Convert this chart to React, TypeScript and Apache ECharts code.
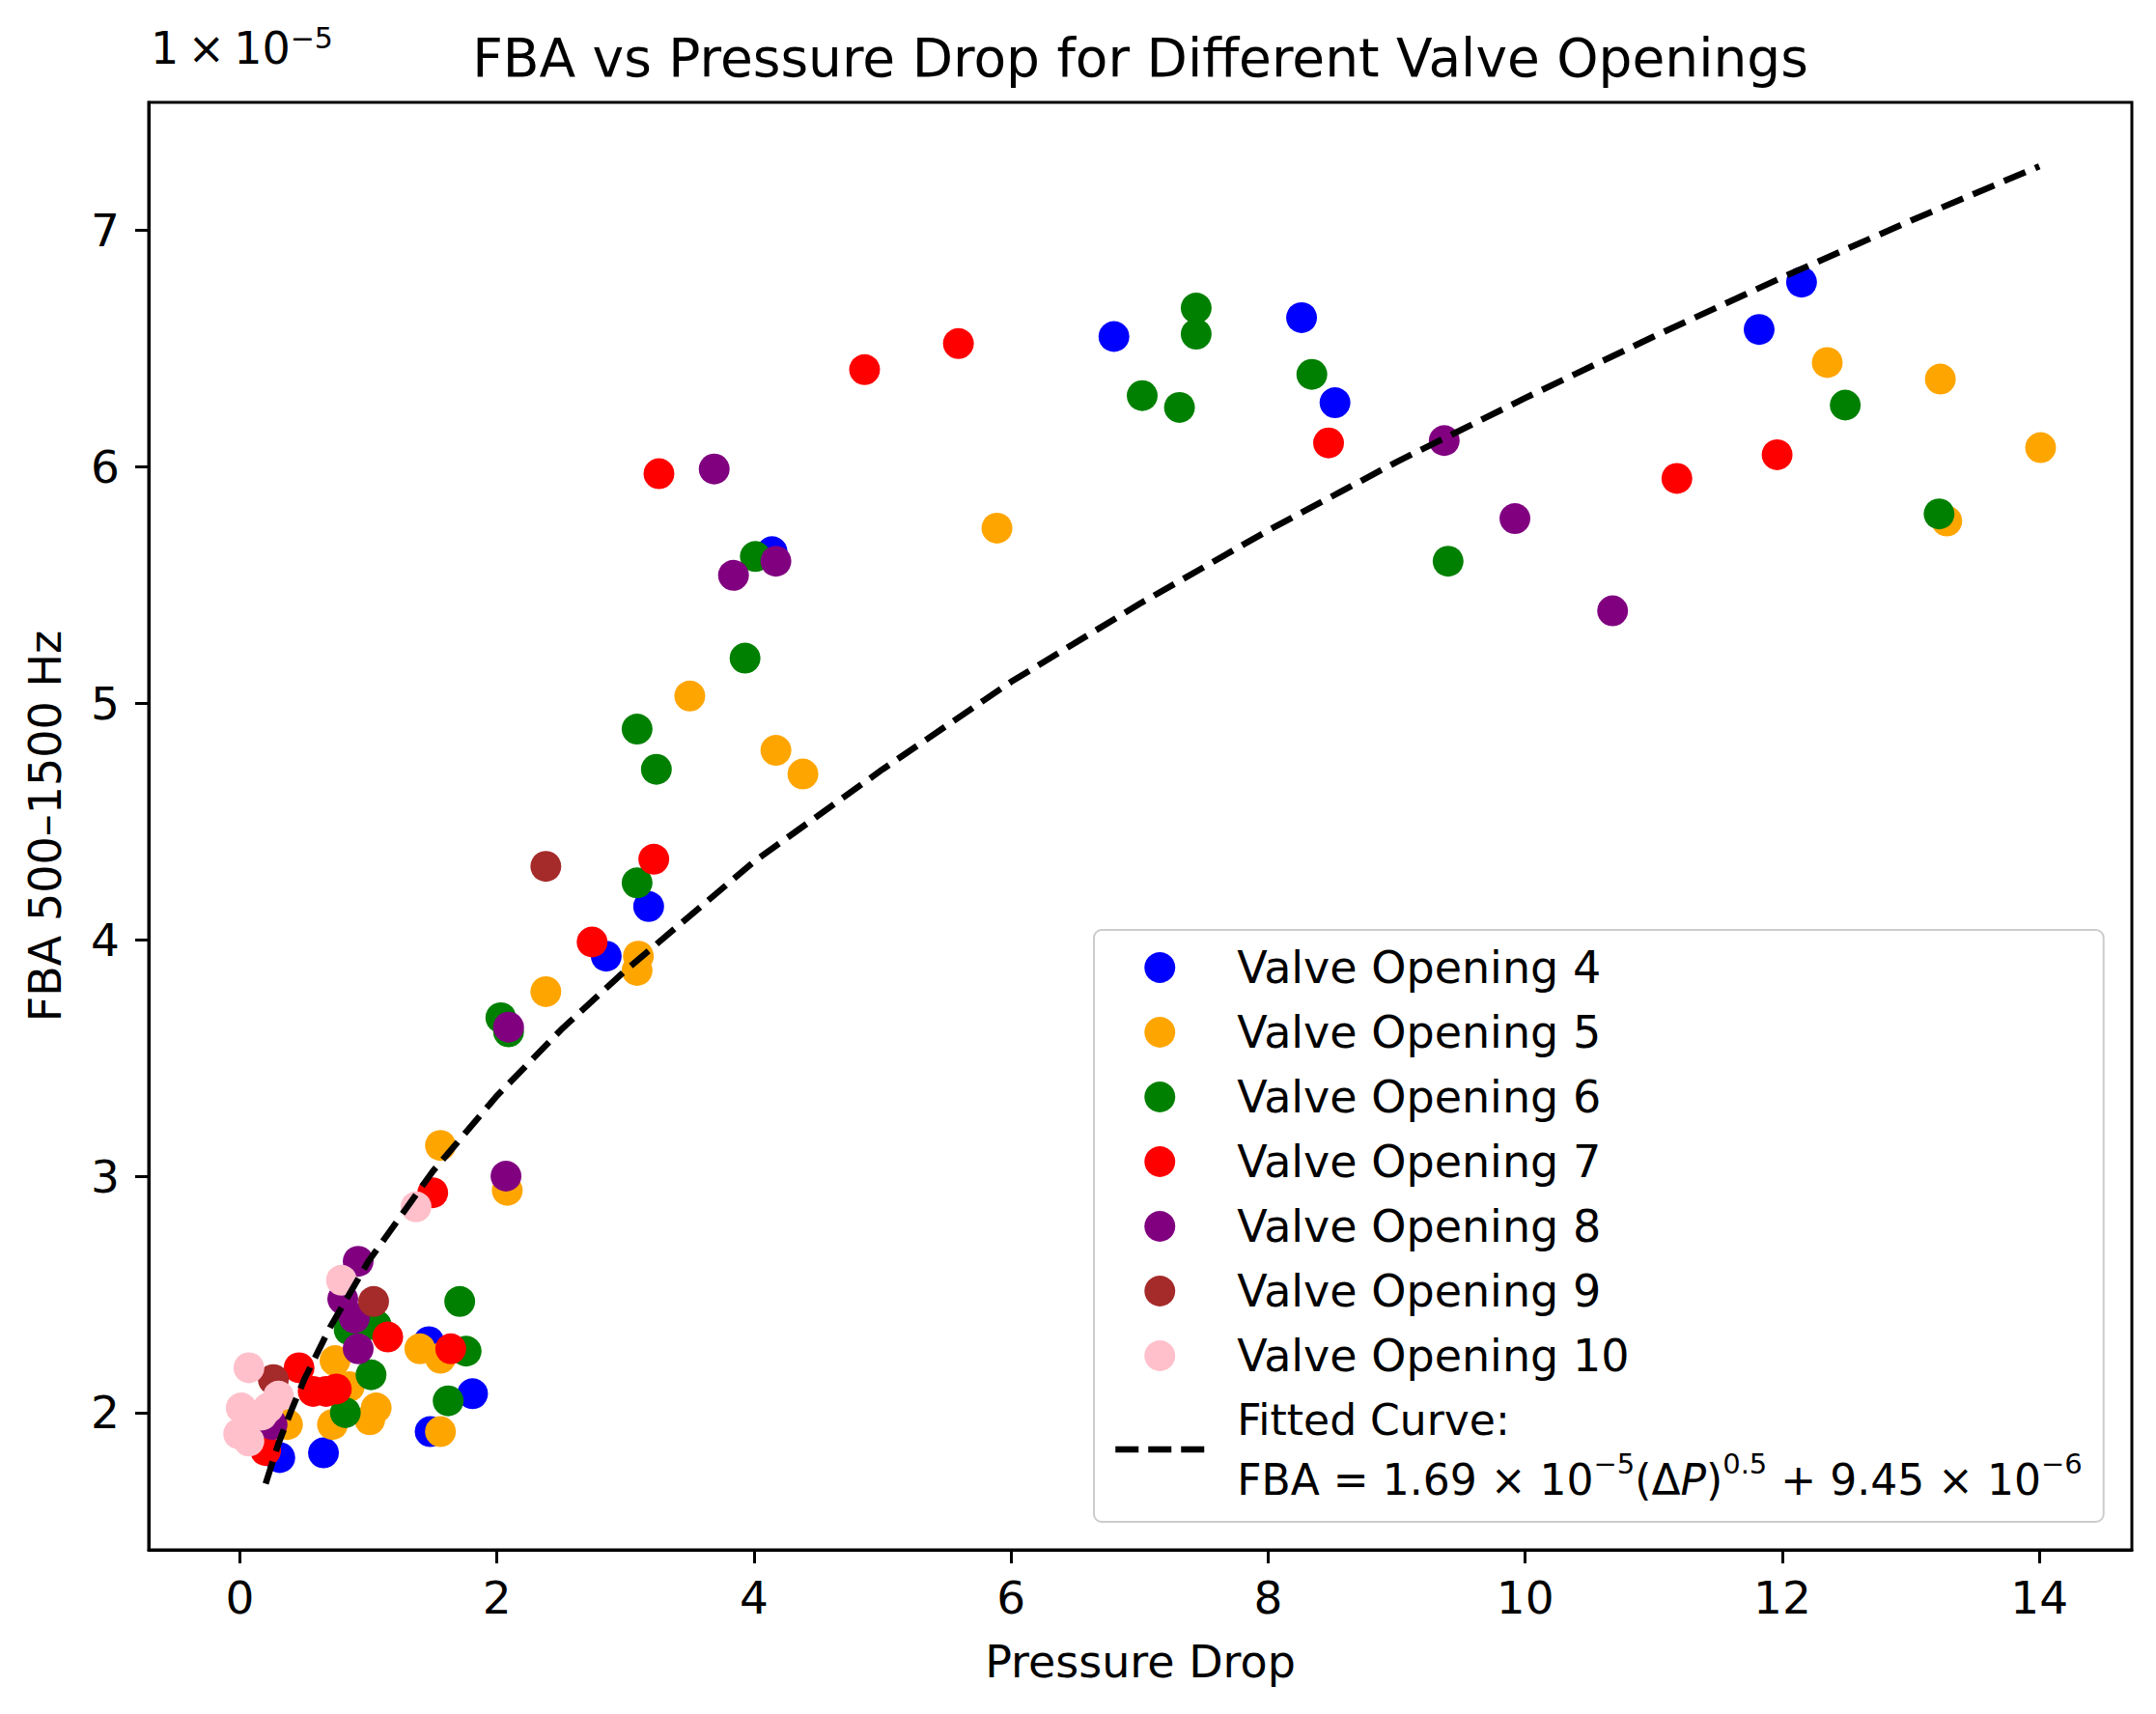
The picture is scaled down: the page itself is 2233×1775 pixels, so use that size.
import React, { useEffect, useRef } from "react";
import * as echarts from "echarts";

// Pressure drop (x) vs FBA 500–1500 Hz (y, in units of 1e-5)
const valve4: [number, number][] = [
  [6.80, 6.55], [8.26, 6.63], [8.52, 6.27], [12.15, 6.78], [11.82, 6.58],
  [4.14, 5.64], [3.18, 4.14], [2.85, 3.93], [1.81, 2.08], [1.47, 2.30],
  [1.48, 1.92], [0.65, 1.83], [0.31, 1.81],
];
const valve5: [number, number][] = [
  [14.01, 6.08], [12.35, 6.44], [13.23, 6.37], [13.28, 5.77], [5.89, 5.74],
  [3.50, 5.03], [4.17, 4.80], [4.38, 4.70], [3.10, 3.93], [3.09, 3.87],
  [2.38, 3.78], [1.56, 3.13], [2.08, 2.94], [0.74, 2.22], [0.85, 2.11],
  [0.37, 1.95], [0.72, 1.95], [1.06, 2.02], [1.01, 1.97], [1.40, 2.27],
  [1.56, 2.23], [1.56, 1.92],
];
const valve6: [number, number][] = [
  [7.44, 6.67], [7.44, 6.56], [7.02, 6.30], [7.31, 6.25], [8.34, 6.39],
  [12.49, 6.26], [13.22, 5.80], [9.40, 5.60], [4.01, 5.62], [3.93, 5.19],
  [3.09, 4.89], [3.24, 4.72], [3.09, 4.24], [2.03, 3.67], [2.09, 3.61],
  [1.71, 2.47], [1.76, 2.26], [1.62, 2.05], [1.02, 2.16], [0.82, 2.00],
  [0.85, 2.35], [1.06, 2.37],
];
const valve7: [number, number][] = [
  [4.86, 6.41], [5.59, 6.52], [3.26, 5.97], [8.47, 6.10], [11.18, 5.95],
  [11.96, 6.05], [3.22, 4.34], [2.74, 3.99], [1.50, 2.93], [1.15, 2.32],
  [1.64, 2.27], [0.46, 2.19], [0.57, 2.09], [0.67, 2.09], [0.75, 2.10],
  [0.20, 1.84],
];
const valve8: [number, number][] = [
  [3.69, 5.99], [3.84, 5.54], [4.17, 5.60], [9.37, 6.11], [9.92, 5.78],
  [10.68, 5.39], [2.09, 3.63], [2.07, 3.00], [0.92, 2.64], [0.89, 2.40],
  [0.80, 2.48], [0.92, 2.27], [0.25, 1.95],
];
const valve9: [number, number][] = [
  [2.38, 4.31], [1.04, 2.47], [0.26, 2.14],
];
const valve10: [number, number][] = [
  [1.37, 2.87], [0.79, 2.56], [0.07, 2.19], [0.01, 2.02], [0.22, 2.02],
  [0.30, 2.07], [-0.01, 1.91], [0.07, 1.88], [0.17, 1.99],
];
// Fitted curve
const curveX = [0.2, 0.3, 0.4, 0.5, 0.7, 1, 1.5, 2, 2.5, 3, 4, 5, 6, 7, 8, 9, 10, 11, 12, 13, 14];
const curveY = [1.70, 1.87, 2.01, 2.14, 2.36, 2.64, 3.02, 3.34, 3.62, 3.87, 4.33, 4.72, 5.09, 5.42, 5.73, 6.02, 6.29, 6.55, 6.80, 7.04, 7.27];

const xTicks = [0, 2, 4, 6, 8, 10, 12, 14];
const yTicks = [2, 3, 4, 5, 6, 7];

const seriesNames = [
  "Valve Opening 4", "Valve Opening 5", "Valve Opening 6", "Valve Opening 7",
  "Valve Opening 8", "Valve Opening 9", "Valve Opening 10",
];
const seriesColors = ["#0000ff", "#ffa500", "#008000", "#ff0000", "#800080", "#a52a2a", "#ffc0cb"];
const seriesData = [valve4, valve5, valve6, valve7, valve8, valve9, valve10];
const curveName = "Fitted Curve";

const FONT = "DejaVu Sans";

export default function App() {
  const ref = useRef<HTMLDivElement>(null);
  useEffect(() => {
    if (!ref.current) return;
    const chart = echarts.init(ref.current, undefined, { renderer: "svg" });
    const scatterSeries = seriesNames.map((name, i) => ({
      name,
      type: "scatter",
      data: seriesData[i],
      symbol: "circle",
      symbolSize: 32,
      itemStyle: { color: seriesColors[i], opacity: 1 },
      emphasis: { disabled: true },
    }));
    const lineSeries = {
      name: curveName,
      type: "line",
      data: curveX.map((x, i) => [x, curveY[i]]),
      showSymbol: false,
      symbol: "none",
      itemStyle: { color: "#000" },
      lineStyle: { color: "#000", width: 6.5, type: [24, 11], cap: "butt" },
      emphasis: { disabled: true },
    };
    const axisCommon = {
      type: "value",
      splitLine: { show: false },
      axisLine: { show: true, onZero: false, lineStyle: { color: "#000", width: 3 } },
      axisTick: { show: true, inside: false, length: 14, lineStyle: { color: "#000", width: 3 } },
    };
    chart.setOption({
      animation: false,
      backgroundColor: "#ffffff",
      title: {
        text: "FBA vs Pressure Drop for Different Valve Openings",
        left: 1181,
        top: 32,
        textAlign: "center",
        padding: 0,
        textStyle: { fontFamily: FONT, fontSize: 55, fontWeight: "normal", color: "#000" },
      },
      grid: {
        left: 154,
        top: 106,
        right: 25,
        bottom: 170,
        show: true,
        borderColor: "#000",
        borderWidth: 3,
        backgroundColor: "transparent",
      },
      xAxis: {
        ...axisCommon,
        min: -0.71,
        max: 14.72,
        name: "Pressure Drop",
        nameLocation: "middle",
        nameGap: 93,
        nameTextStyle: { fontFamily: FONT, fontSize: 46, color: "#000" },
        axisTick: { ...axisCommon.axisTick, customValues: xTicks },
        axisLabel: {
          customValues: xTicks,
          margin: 26,
          fontFamily: FONT,
          fontSize: 47,
          color: "#000",
          formatter: (v: number) => String(v),
        },
      },
      yAxis: {
        ...axisCommon,
        min: 1.42,
        max: 7.54,
        name: "FBA 500–1500 Hz",
        nameLocation: "middle",
        nameGap: 84,
        nameTextStyle: { fontFamily: FONT, fontSize: 46, color: "#000" },
        axisTick: { ...axisCommon.axisTick, customValues: yTicks },
        axisLabel: {
          customValues: yTicks,
          margin: 30,
          fontFamily: FONT,
          fontSize: 47,
          color: "#000",
          formatter: (v: number) => String(v),
        },
      },
      legend: {
        orient: "vertical",
        left: 1133,
        top: 963,
        padding: [16, 22, 22, 19],
        itemWidth: 92,
        itemHeight: 32,
        itemGap: 21,
        selectedMode: false,
        backgroundColor: "rgba(255,255,255,0.8)",
        borderColor: "#cccccc",
        borderWidth: 2,
        borderRadius: 8,
        data: [
          ...seriesNames.map((name) => ({ name, icon: "circle" })),
          {
            name: curveName,
            itemStyle: { color: "rgba(0,0,0,0)", opacity: 0, borderWidth: 0 },
            lineStyle: { color: "#000", width: 6.5, type: [24, 10] },
          },
        ],
        formatter: (name: string) =>
          name === curveName
            ? "{b|Fitted Curve:}\n{b|FBA = 1.69 × 10}{s|−5}{b|(Δ}{i|P}{b|)}{s|0.5}{b| + 9.45 × 10}{s|−6}"
            : "{a|" + name + "}",
        textStyle: {
          fontFamily: FONT,
          fontSize: 46,
          color: "#000",
          padding: [0, 0, 0, 29],
          rich: {
            a: { fontFamily: FONT, fontSize: 46, lineHeight: 50, color: "#000" },
            b: { fontFamily: FONT, fontSize: 44, lineHeight: 62, color: "#000" },
            i: { fontFamily: FONT, fontSize: 44, lineHeight: 62, fontStyle: "italic", color: "#000" },
            s: { fontFamily: FONT, fontSize: 29, lineHeight: 40, verticalAlign: "top", color: "#000" },
          },
        },
      },
      graphic: [
        {
          type: "text",
          left: 156,
          top: 24,
          style: {
            text: "{m|1\u2009×\u200910}{s|−5}",
            fill: "#000",
            rich: {
              m: { fontFamily: FONT, fontSize: 46, lineHeight: 52, fill: "#000" },
              s: { fontFamily: FONT, fontSize: 30, lineHeight: 34, verticalAlign: "top", fill: "#000" },
            },
          },
        },
      ],
      series: [...scatterSeries, lineSeries],
    });
    return () => chart.dispose();
  }, []);
  return (
    <div
      ref={ref}
      style={{ position: "absolute", left: 0, top: 0, width: 2233, height: 1775, background: "#fff" }}
    />
  );
}
